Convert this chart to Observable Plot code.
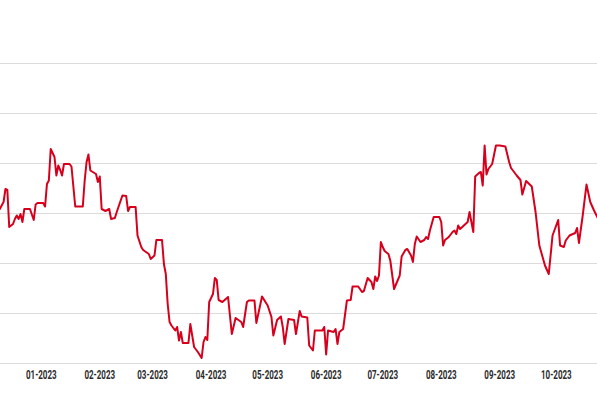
<!DOCTYPE html>
<html>
<head>
<meta charset="utf-8">
<script src="https://cdn.jsdelivr.net/npm/d3@7"></script>
<script src="https://cdn.jsdelivr.net/npm/@observablehq/plot@0.6"></script>
<style>
  html, body { margin: 0; padding: 0; background: #fff; }
  #chart svg { display: block; }
</style>
</head>
<body>
<div id="chart"></div>
<script>
const dates = [
  "2022-12-10","2022-12-12","2022-12-13","2022-12-14","2022-12-15","2022-12-17","2022-12-18","2022-12-19","2022-12-20","2022-12-21",
  "2022-12-22","2022-12-23","2022-12-26","2022-12-28","2022-12-29","2022-12-30","2023-01-02","2023-01-03","2023-01-04","2023-01-05",
  "2023-01-06","2023-01-08","2023-01-09","2023-01-10","2023-01-11","2023-01-12","2023-01-13","2023-01-16","2023-01-17","2023-01-19",
  "2023-01-23","2023-01-24","2023-01-25","2023-01-26","2023-01-27","2023-01-30","2023-01-31","2023-02-01","2023-02-02","2023-02-04",
  "2023-02-06","2023-02-07","2023-02-09","2023-02-10","2023-02-13","2023-02-15","2023-02-16","2023-02-17","2023-02-20","2023-02-21",
  "2023-02-23","2023-02-24","2023-02-27","2023-02-28","2023-03-02","2023-03-03","2023-03-06","2023-03-07","2023-03-08","2023-03-09",
  "2023-03-10","2023-03-11","2023-03-13","2023-03-14","2023-03-15","2023-03-16","2023-03-17","2023-03-20","2023-03-21","2023-03-23",
  "2023-03-25","2023-03-27","2023-03-28","2023-03-29","2023-03-30","2023-03-31","2023-04-02","2023-04-03","2023-04-04","2023-04-05",
  "2023-04-07","2023-04-10","2023-04-12","2023-04-14","2023-04-17","2023-04-18","2023-04-20","2023-04-21","2023-04-24","2023-04-25",
  "2023-04-28","2023-05-01","2023-05-03","2023-05-04","2023-05-06","2023-05-08","2023-05-09","2023-05-10","2023-05-12","2023-05-15",
  "2023-05-16","2023-05-18","2023-05-19","2023-05-22","2023-05-23","2023-05-25","2023-05-26","2023-05-30","2023-05-31","2023-06-01",
  "2023-06-02","2023-06-05","2023-06-06","2023-06-07","2023-06-08","2023-06-10","2023-06-12","2023-06-14","2023-06-15","2023-06-18",
  "2023-06-20","2023-06-21","2023-06-23","2023-06-25","2023-06-26","2023-06-27","2023-06-28","2023-06-29","2023-06-30","2023-07-01",
  "2023-07-02","2023-07-04","2023-07-05","2023-07-07","2023-07-10","2023-07-11","2023-07-13","2023-07-14","2023-07-16","2023-07-17",
  "2023-07-18","2023-07-19","2023-07-21","2023-07-23","2023-07-24","2023-07-25","2023-07-26","2023-07-28","2023-07-31","2023-08-01",
  "2023-08-02","2023-08-03","2023-08-05","2023-08-07","2023-08-08","2023-08-09","2023-08-10","2023-08-11","2023-08-13","2023-08-15",
  "2023-08-16","2023-08-17","2023-08-18","2023-08-19","2023-08-21","2023-08-22","2023-08-23","2023-08-24","2023-08-25","2023-08-26",
  "2023-08-28","2023-08-30","2023-09-01","2023-09-04","2023-09-06","2023-09-07","2023-09-08","2023-09-10","2023-09-12","2023-09-13",
  "2023-09-15","2023-09-18","2023-09-20","2023-09-22","2023-09-25","2023-09-27","2023-09-29","2023-10-02","2023-10-03","2023-10-05",
  "2023-10-06","2023-10-08","2023-10-11","2023-10-12","2023-10-13","2023-10-15","2023-10-17","2023-10-19","2023-10-21","2023-10-23",
  "2023-10-24"
];
const values = [
  3.09,3.23,3.49,3.47,2.73,2.79,2.89,2.96,2.89,2.99,
  2.83,3.09,3.09,2.87,3.18,3.21,3.21,3.14,3.59,3.66,
  4.29,4.13,3.76,3.96,3.87,3.76,3.99,3.99,3.94,3.14,
  3.14,3.66,4.03,4.18,3.86,3.79,3.63,3.74,3.09,3.05,
  3.09,2.89,2.91,3.03,3.36,3.35,3.05,3.13,3.13,2.56,
  2.33,2.27,2.19,2.09,2.16,2.47,2.47,1.99,1.79,1.19,
  0.83,0.76,0.66,0.73,0.46,0.63,0.41,0.41,0.79,0.33,
  0.23,0.11,0.43,0.53,0.47,1.23,1.39,1.71,1.67,1.27,
  1.23,1.33,0.59,0.91,0.83,0.73,1.23,1.26,1.26,0.81,
  1.34,1.16,0.93,0.56,0.87,0.94,0.73,0.39,0.89,0.87,
  0.59,1.05,0.94,0.92,0.36,0.26,0.66,0.66,0.73,0.18,
  0.66,0.63,0.69,0.39,0.63,0.69,1.26,1.27,1.54,1.54,
  1.43,1.45,1.71,1.63,1.49,1.74,1.65,1.76,2.43,2.33,
  2.25,2.19,2.06,1.49,1.76,2.14,2.27,2.29,2.16,2.03,
  2.39,2.54,2.43,2.47,2.53,2.49,2.66,2.93,2.93,2.83,
  2.36,2.47,2.53,2.63,2.66,2.59,2.76,2.69,2.76,2.83,
  3.03,2.83,2.63,3.74,3.81,3.83,3.56,4.36,3.78,3.89,
  3.99,4.36,4.36,4.34,4.03,3.91,3.86,3.76,3.67,3.38,
  3.65,3.54,3.03,2.36,1.96,1.79,2.56,2.87,2.36,2.33,
  2.46,2.56,2.61,2.71,2.41,2.96,3.58,3.23,3.06,2.91,
  2.85
];
const monthTicks = ["2023-01-01","2023-02-01","2023-03-01","2023-04-01","2023-05-01","2023-06-01","2023-07-01","2023-08-01","2023-09-01","2023-10-01"];
const yTicks = [0, 1, 2, 3, 4, 5, 6];
const xDomain = ["2022-12-10T09:00:00Z", "2023-10-22T20:00:00Z"];

const data = dates.map((d, i) => ({date: new Date(d + "T00:00:00Z"), value: values[i]}));

const chart = Plot.plot({
  width: 597,
  height: 398,
  marginLeft: 0,
  marginRight: 0,
  marginTop: 63,
  marginBottom: 35,
  style: {fontFamily: "Roboto", fontSize: "12.5px", color: "#2b2b2b", background: "#fff"},
  x: {
    type: "utc",
    domain: xDomain.map(d => new Date(d)),
    ticks: monthTicks.map(d => new Date(d + "T00:00:00Z")),
    tickFormat: d3.utcFormat("%m-%Y"),
    tickSize: 0,
    tickPadding: 7,
    label: null
  },
  y: {domain: [0, 6], axis: null},
  marks: [
    Plot.ruleY(yTicks, {stroke: "#dcdcdc", strokeWidth: 1}),
    Plot.line(data, {x: "date", y: "value", stroke: "#d6001c", strokeWidth: 2, strokeLinejoin: "round", clip: true})
  ]
});
document.getElementById("chart").appendChild(chart);

// condense axis labels
chart.querySelectorAll("g[aria-label='x-axis tick label'] text").forEach(t => {
  t.setAttribute("font-weight", "700");
  t.setAttribute("fill", "#2b2b2b");
  const w = t.getComputedTextLength();
  t.setAttribute("textLength", (w * 0.64).toFixed(1));
  t.setAttribute("lengthAdjust", "spacingAndGlyphs");
});
</script>
</body>
</html>
